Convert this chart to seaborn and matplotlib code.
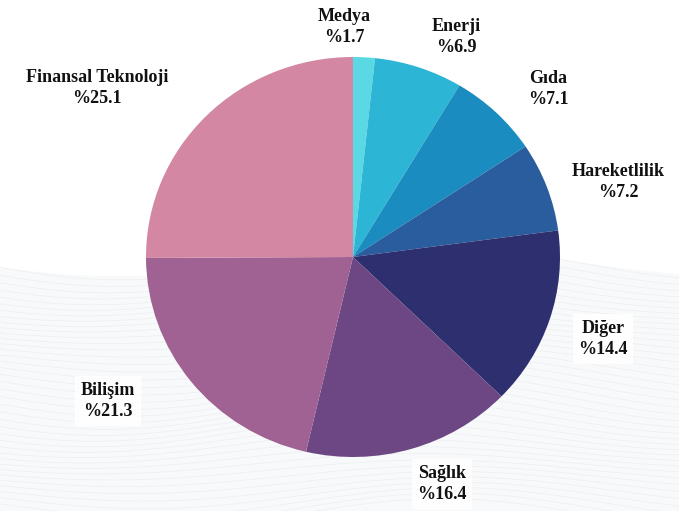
import numpy as np
import seaborn as sns
import matplotlib.pyplot as plt

sectors = ["Medya", "Enerji", "Gıda", "Hareketlilik", "Diğer", "Sağlık", "Bilişim", "Finansal Teknoloji"]
shares = [1.7, 6.9, 7.1, 7.2, 14.4, 16.4, 21.3, 25.1]
colors = ["#5ad8e4", "#2db5d6", "#1b8cbf", "#2a5d9d", "#2d2f6e", "#6c4783", "#a06292", "#d487a3"]
# label centres in pixels (x, y from top)
label_pos = [(344, 27), (456, 37), (548, 89), (618, 182), (603, 339), (442, 484), (108, 401), (97, 88)]

sns.set_theme(style="white")
plt.rcParams["font.family"] = ["Liberation Serif", "DejaVu Serif"]

W, H = 679, 511
fig = plt.figure(figsize=(W / 100, H / 100), dpi=100)

# background: faint wavy lines in the lower half
bg = fig.add_axes([0, 0, 1, 1])
bg.set_xlim(0, W)
bg.set_ylim(H, 0)
bg.axis("off")
xs = np.linspace(0, W, 400)
top = 262 + 14 * np.sin(xs / W * 2 * np.pi * 1.1 + 0.4)
bg.fill_between(xs, top, H, color="#f8f9fa", lw=0)
for k in range(40):
    yy = top + k * 6.5 + 4 * np.sin(xs / 90 + k * 0.3)
    bg.plot(xs, yy, color="#eceef1", lw=0.5)

ax = fig.add_axes([0, 0, 1, 1])
ax.pie(shares, colors=colors, startangle=90, counterclock=False,
       wedgeprops=dict(linewidth=0))
cx, cy, rx, ry = 353, 257, 207, 200
ax.set_aspect("auto")
ax.set_xlim(-cx / rx, (W - cx) / rx)
ax.set_ylim(-(H - cy) / ry, cy / ry)
ax.axis("off")

for name, val, (px, py) in zip(sectors, shares, label_pos):
    bg.text(px, py, f"{name}\n%{val}", ha="center", va="center", fontsize=13,
            fontweight="bold", color="#111111", linespacing=1.3, zorder=5,
            bbox=dict(facecolor="white", edgecolor="none", alpha=0.9, pad=4))

fig.savefig("out.png", dpi=100)
